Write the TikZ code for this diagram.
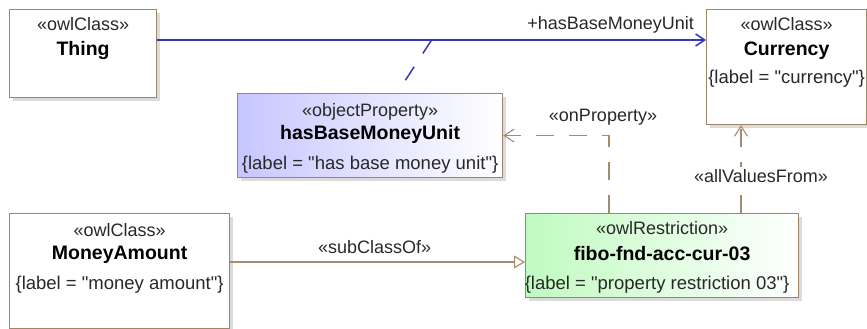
\documentclass[tikz,border=0pt]{standalone}
\usepackage{fontspec}
\setmainfont{Liberation Sans}
\usetikzlibrary{arrows.meta,positioning,shadows}
\definecolor{owlbrown}{RGB}{160,132,104}
\definecolor{owlline}{RGB}{168,138,110}
\definecolor{owlblue}{RGB}{55,55,185}
\definecolor{owlprop}{RGB}{198,198,255}
\definecolor{owlrestr}{RGB}{192,250,192}
\definecolor{owltext}{RGB}{40,40,40}
\newcommand{\owlq}{\textquotedbl}
\tikzset{
  owlbox/.style={draw=owlbrown, line width=1.2pt, fill=white, anchor=north west, inner sep=0pt,
    drop shadow={shadow xshift=3pt, shadow yshift=-3pt, fill=black!28}},
  owlstereo/.style={anchor=base, text=owltext, inner sep=0pt},
  owlname/.style={anchor=base, text=black, inner sep=0pt, font=\fontsize{19.5}{21}\selectfont\bfseries},
  owllabel/.style={anchor=base, text=owltext, inner sep=0pt, font=\fontsize{18.5}{20}\selectfont},
  owlarr/.style={-{Straight Barb[length=10pt, width=13pt]}, line width=1.1pt, draw=owlline},
  owldash/.style={owlarr, dash pattern=on 18pt off 15pt},
  owlgen/.style={-{Triangle[open, length=11pt, width=13pt, fill=white]}, line width=1.1pt, draw=owlline},
  owlassoc/.style={-{Straight Barb[length=9pt, width=12pt]}, line width=1.5pt, draw=owlblue},
  owlassocdash/.style={line width=1.5pt, draw=owlblue, dash pattern=on 16pt off 16pt}
}

\begin{document}
\begin{tikzpicture}[x=1pt, y=-1pt, font=\fontsize{18}{20}\selectfont]
  \useasboundingbox (0,0) rectangle (867,329);
  % boxes
  \node[owlbox, minimum width=147pt, minimum height=88pt] (thing) at (9,9) {};
  \node[owlbox, minimum width=160pt, minimum height=115pt] (currency) at (706,9) {};
  \node[owlbox, left color=owlprop, right color=white, minimum width=265pt, minimum height=84pt] (hasprop) at (237,93) {};
  \node[owlbox, minimum width=220pt, minimum height=115pt] (money) at (9,213) {};
  \node[owlbox, left color=owlrestr, right color=white, minimum width=273pt, minimum height=84pt] (restr) at (525,213) {};
  % box texts
  \node[owlstereo] (thingS) at ([yshift=-22pt]thing.north) {«owlClass»};
  \node[owlname] (thingN) at ([yshift=-47pt]thing.north) {Thing};
  \node[owlstereo] (currencyS) at ([yshift=-22pt]currency.north) {«owlClass»};
  \node[owlname] (currencyN) at ([yshift=-47pt]currency.north) {Currency};
  \node[owllabel] (currencyL) at ([yshift=-75pt]currency.north) {\{label = \owlq currency\owlq\}};
  \node[owlstereo] (haspropS) at ([yshift=-23pt]hasprop.north) {«objectProperty»};
  \node[owlname] (haspropN) at ([yshift=-46pt]hasprop.north) {hasBaseMoneyUnit};
  \node[owllabel] (haspropL) at ([yshift=-76pt]hasprop.north) {\{label = \owlq has base money unit\owlq\}};
  \node[owlstereo] (moneyS) at ([yshift=-23pt]money.north) {«owlClass»};
  \node[owlname] (moneyN) at ([yshift=-46pt]money.north) {MoneyAmount};
  \node[owllabel] (moneyL) at ([yshift=-76pt]money.north) {\{label = \owlq money amount\owlq\}};
  \node[owlstereo] (restrS) at ([yshift=-21pt]restr.north) {«owlRestriction»};
  \node[owlname] (restrN) at ([yshift=-47pt]restr.north) {fibo-fnd-acc-cur-03};
  \node[owllabel] (restrL) at ([yshift=-76pt,xshift=-5pt]restr.north) {\{label = \owlq property restriction 03\owlq\}};
  % connectors
  \draw[owlassoc] ([yshift=-31pt]thing.north east) -- coordinate[pos=0.5] (assocmid) ([yshift=-31pt]currency.north west)
    node[anchor=base east, xshift=-8pt, yshift=10pt, text=owltext] (assocL) {+hasBaseMoneyUnit};
  \draw[owlassocdash] (assocmid) -- ([xshift=27pt]hasprop.north);
  \draw[owlgen] ([yshift=-49pt]money.north east) -- ([yshift=-49pt]restr.north west)
    node[pos=0.5, anchor=base, xshift=-3pt, yshift=9pt, text=owltext] (subL) {«subClassOf»};
  \coordinate (onpstart) at ([xshift=84pt]restr.north west);
  \draw[owldash] (onpstart) |- (hasprop.east)
    node[pos=0.5, anchor=base, xshift=-6pt, yshift=14pt, text=owltext] (onpL) {«onProperty»};
  \coordinate (avfstart) at ([xshift=216pt]restr.north west);
  \draw[owldash] (avfstart) -- (avfstart |- currency.south)
    node[pos=0.42, anchor=base, xshift=20pt, yshift=-6pt, fill=white, inner sep=2pt, text=owltext] (avfL) {«allValuesFrom»};
\end{tikzpicture}
\end{document}
